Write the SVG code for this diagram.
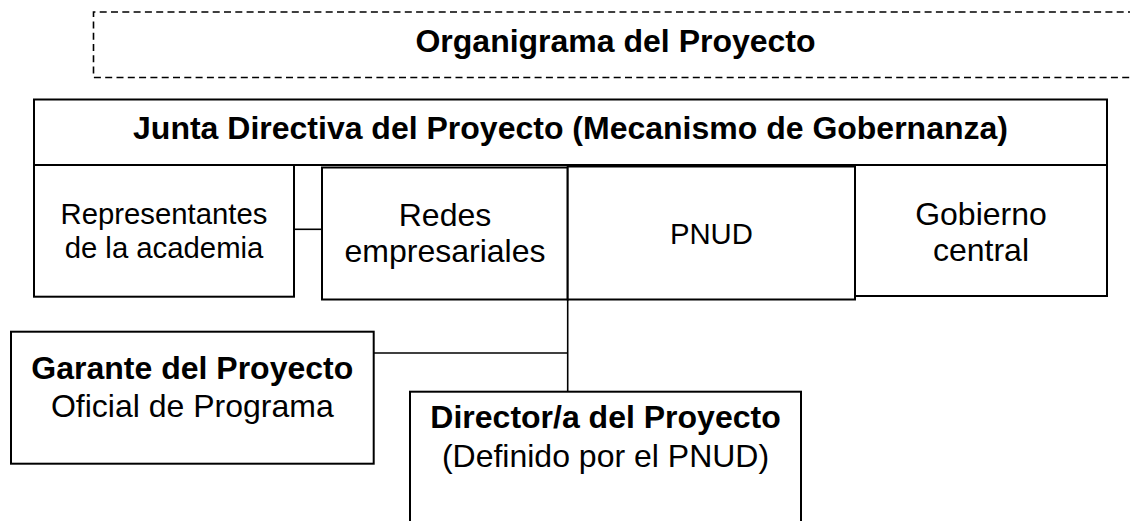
<svg xmlns="http://www.w3.org/2000/svg" width="1130" height="521" viewBox="0 0 1130 521">
<style>
.box{fill:#fff;stroke:#000;stroke-width:2}
.con{fill:none;stroke:#000;stroke-width:1.6}
.dash{fill:none;stroke:#000;stroke-width:1.6;stroke-dasharray:7 4.3}
text{font-family:"Liberation Sans",Arial,sans-serif;fill:#000;text-anchor:middle}
.b{font-weight:bold;font-size:32px}
.r{font-size:32px}
.s{font-size:29.3px}
</style>
<rect width="1130" height="521" fill="#fff"/>
<g id="title">
<path class="dash" d="M1135,12 H93.5 V77.5 H1135"/>
<text class="b" x="615.5" y="52">Organigrama del Proyecto</text>
</g>
<g id="connectors">
<line class="con" x1="294" y1="229.3" x2="322" y2="229.3"/>
<line class="con" x1="567.7" y1="299.5" x2="567.7" y2="391.7"/>
<line class="con" x1="373.7" y1="353" x2="567.7" y2="353"/>
</g>
<g id="junta">
<rect class="box" x="34" y="99.5" width="1073" height="65.5"/>
<text class="b" x="570.5" y="138.5">Junta Directiva del Proyecto (Mecanismo de Gobernanza)</text>
</g>
<g id="representantes">
<rect class="box" x="34" y="165" width="260" height="131.7"/>
<text class="s" x="164" y="224">Representantes</text>
<text class="s" x="164" y="257.5">de la academia</text>
</g>
<g id="redes">
<rect class="box" x="322" y="167.5" width="245.7" height="132"/>
<text class="r" x="445" y="226">Redes</text>
<text class="r" x="445" y="262">empresariales</text>
</g>
<g id="pnud">
<rect class="box" x="567.7" y="166.5" width="287.3" height="133"/>
<text class="s" x="711.4" y="243.5">PNUD</text>
</g>
<g id="gobierno">
<rect class="box" x="855" y="165" width="252" height="131"/>
<text class="r" x="981" y="224.5">Gobierno</text>
<text class="r" x="981" y="261">central</text>
</g>
<g id="garante">
<rect class="box" x="11" y="331.7" width="362.7" height="132"/>
<text class="b" x="192.3" y="379.3">Garante del Proyecto</text>
<text class="r" x="192.3" y="416.7">Oficial de Programa</text>
</g>
<g id="director">
<rect class="box" x="410" y="391.7" width="391" height="140"/>
<text class="b" x="605.5" y="428">Director/a del Proyecto</text>
<text class="r" x="605.5" y="467">(Definido por el PNUD)</text>
</g>
</svg>
